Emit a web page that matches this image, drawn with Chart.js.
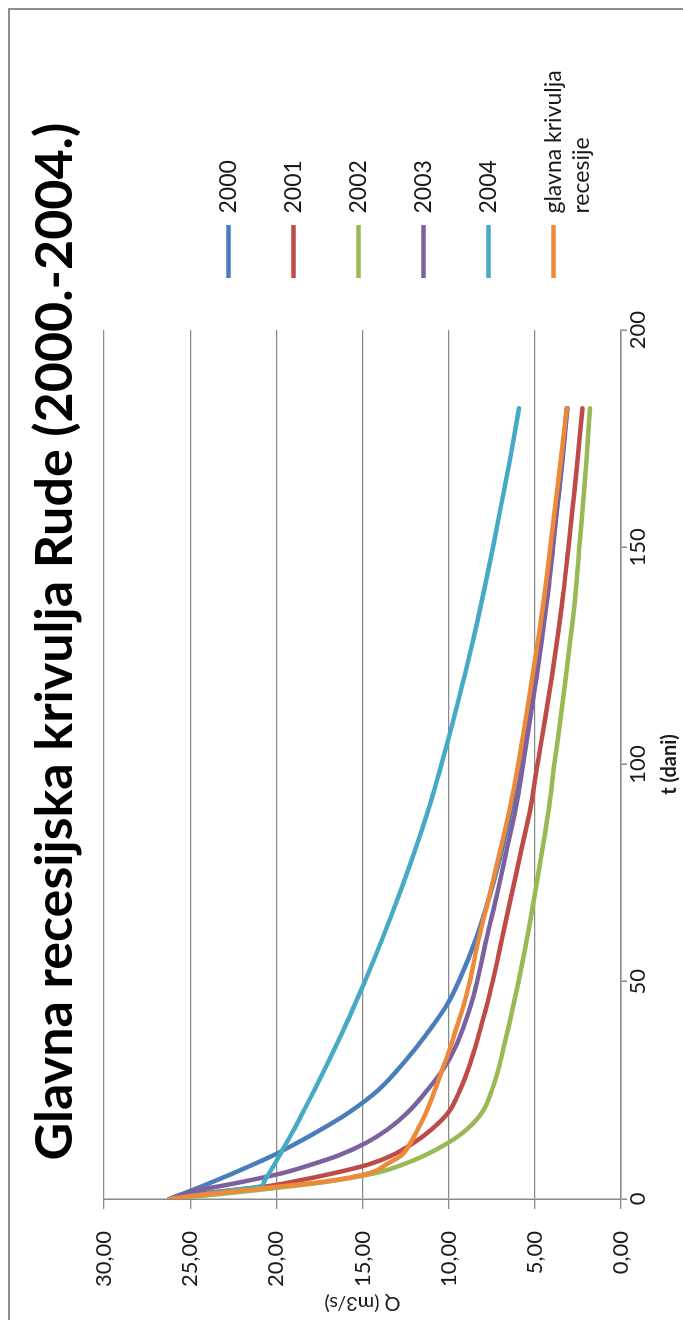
<!DOCTYPE html>
<html lang="hr">
<head>
<meta charset="UTF-8">
<title>Glavna recesijska krivulja Rude</title>
<script src="https://cdn.jsdelivr.net/npm/chart.js"></script>
<style>
  html, body { margin: 0; padding: 0; background: #fff; overflow: hidden; width: 683px; height: 1320px; }
  /* the whole chart is drawn lying on its side, like the source picture */
  .turn { position: absolute; left: 0; top: 0; width: 1320px; height: 683px;
          transform-origin: 0 0; transform: translateY(1320px) rotate(-90deg); }
  .frame { position: absolute; left: -10px; top: 8px; width: 1318px; height: 700px; border: 2px solid #8e8e8e; }
  canvas { position: absolute; left: 0; top: 0; }
</style>
</head>
<body>
<div class="turn">
  <div class="frame"></div>
  <canvas id="rec" width="1320" height="683"></canvas>
</div>

<script>
const days = [0, 1, 2, 3, 4, 6, 8, 10, 13, 16, 20, 25, 30, 35, 40, 45, 50, 60, 70, 80, 90, 100, 110, 120, 130, 140, 150, 160, 170, 182];

const q2000 = [26.2, 25.55, 24.9, 24.27, 23.65, 22.45, 21.3, 20.2, 18.75, 17.4, 15.75, 14.1, 12.9, 11.85, 10.9, 10.05, 9.42, 8.4, 7.6, 6.93, 6.33, 5.8, 5.35, 4.95, 4.6, 4.27, 3.97, 3.68, 3.4, 3.1];
const q2001 = [26.2, 24.9, 22.6, 20.4, 19.0, 16.6, 14.6, 13.3, 12.0, 11.0, 10.0, 9.35, 8.85, 8.45, 8.1, 7.75, 7.45, 6.9, 6.35, 5.8, 5.25, 4.85, 4.42, 4.02, 3.66, 3.33, 3.05, 2.78, 2.52, 2.24];
const q2002 = [26.2, 23.6, 21.2, 19.0, 17.0, 14.2, 12.6, 11.4, 10.0, 8.95, 8.05, 7.5, 7.1, 6.8, 6.5, 6.22, 5.95, 5.45, 5.0, 4.58, 4.18, 3.87, 3.52, 3.2, 2.9, 2.62, 2.42, 2.2, 2.0, 1.8];
const q2003 = [26.2, 25.5, 24.6, 23.2, 21.9, 19.6, 17.9, 16.4, 14.75, 13.55, 12.35, 11.25, 10.3, 9.6, 9.1, 8.68, 8.35, 7.8, 7.2, 6.65, 6.1, 5.68, 5.3, 4.9, 4.55, 4.22, 3.95, 3.68, 3.42, 3.15];
const q2004 = [26.2, 24.4, 22.6, 20.85, 20.7, 20.4, 20.1, 19.82, 19.4, 18.98, 18.45, 17.8, 17.18, 16.57, 15.98, 15.42, 14.87, 13.84, 12.88, 11.98, 11.15, 10.42, 9.74, 9.1, 8.5, 7.95, 7.43, 6.94, 6.45, 5.92];
const qMain = [26.2, 24.2, 21.8, 19.5, 17.2, 14.55, 13.6, 12.75, 12.2, 11.8, 11.3, 10.8, 10.35, 9.9, 9.5, 9.1, 8.78, 8.25, 7.62, 7.02, 6.45, 5.96, 5.55, 5.15, 4.76, 4.41, 4.1, 3.8, 3.5, 3.15];

const names = ['2000', '2001', '2002', '2003', '2004', ['glavna krivulja', 'recesije']];
const series = [q2000, q2001, q2002, q2003, q2004, qMain];
const colors = ['#4a7ebb', '#be4b48', '#98b954', '#7d60a0', '#46aac5', '#ec8a3a'];

const grey = '#8a8a8a';

// push legend and title to where the source has them
const nudge = {
  id: 'nudge',
  afterLayout(chart) {
    const lg = chart.legend;
    lg.left += 10; lg.right += 10;
    lg.top += 167; lg.bottom += 167;
    const tb = chart.titleBlock;
    tb.left += 53; tb.right += 53;
  }
};

Chart.defaults.font.family = 'Lato, sans-serif';
Chart.defaults.color = '#1a1a1a';

new Chart(document.getElementById('rec'), {
  type: 'line',
  data: {
    datasets: series.map((vals, i) => ({
      label: names[i],
      data: days.map((d, k) => ({ x: d, y: vals[k] })),
      borderColor: colors[i],
      backgroundColor: colors[i],
      borderWidth: 4.5,
      borderCapStyle: 'round',
      pointRadius: 0,
      cubicInterpolationMode: 'monotone',
      order: series.length - i
    }))
  },
  options: {
    responsive: false,
    animation: false,
    layout: { padding: { top: 8, left: 1, right: 70.3, bottom: 1 } },
    plugins: {
      title: {
        display: true,
        text: 'Glavna recesijska krivulja Rude (2000.-2004.)',
        font: { size: 52, weight: 'bold', lineHeight: 1.2 },
        color: '#000',
        padding: { top: 15.8, bottom: 17.8 }
      },
      legend: {
        position: 'right',
        align: 'start',
        labels: {
          usePointStyle: true,
          pointStyle: 'line',
          pointStyleWidth: 53,
          padding: 42,
          font: { size: 23 },
          sort: (a, b) => a.datasetIndex - b.datasetIndex
        }
      },
      tooltip: { enabled: false }
    },
    scales: {
      x: {
        type: 'linear',
        min: 0, max: 200,
        ticks: { stepSize: 50, padding: 0, font: { size: 22, lineHeight: 1 } },
        grid: { drawOnChartArea: false, tickLength: 6, color: grey, lineWidth: 1.5 },
        border: { color: grey, width: 1.5 },
        title: { display: true, text: 't (dani)', font: { size: 20, weight: 'bold' }, padding: { top: 9, bottom: 0 } }
      },
      y: {
        min: 0, max: 30,
        ticks: { stepSize: 5, padding: 22, font: { size: 22 }, callback: v => v.toFixed(2).replace('.', ',') },
        grid: { color: grey, lineWidth: 1.3, tickLength: 10 },
        border: { color: grey, width: 1.5 },
        title: { display: true, text: 'Q (m3/s)', font: { size: 20 }, padding: { top: 4, bottom: -18 } }
      }
    }
  },
  plugins: [nudge]
});
</script>
</body>
</html>
